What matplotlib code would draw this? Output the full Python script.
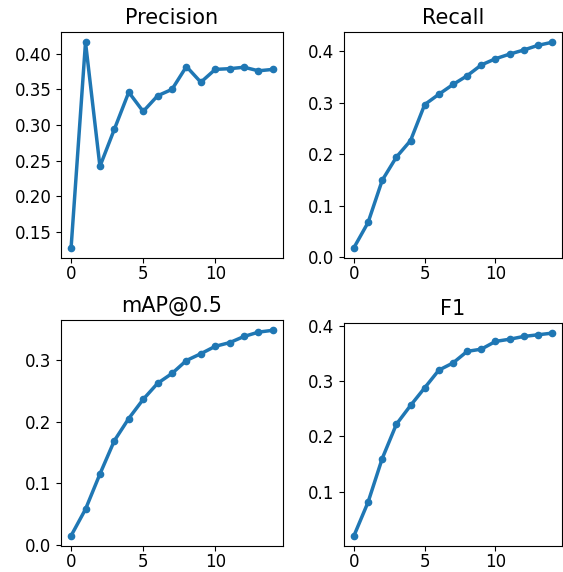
import numpy as np
import matplotlib
matplotlib.use('Agg')
import matplotlib.pyplot as plt
from matplotlib.ticker import MultipleLocator

epochs = np.arange(15)

precision = [0.128, 0.416, 0.242, 0.294, 0.346, 0.319, 0.341, 0.350, 0.382,
             0.360, 0.378, 0.379, 0.381, 0.376, 0.378]
recall = [0.018, 0.067, 0.149, 0.194, 0.226, 0.296, 0.316, 0.335, 0.352,
          0.373, 0.385, 0.394, 0.402, 0.411, 0.417]
map50 = [0.015, 0.058, 0.115, 0.169, 0.205, 0.236, 0.262, 0.278, 0.299,
         0.310, 0.322, 0.328, 0.338, 0.345, 0.348]
f1 = [0.020, 0.081, 0.160, 0.222, 0.256, 0.288, 0.320, 0.333, 0.354,
      0.358, 0.372, 0.376, 0.381, 0.384, 0.387]

titles = ['Precision', 'Recall', 'mAP@0.5', 'F1']
series = [precision, recall, map50, f1]
ystep = [0.05, 0.1, 0.1, 0.1]

W, H = 563, 572
# axes boxes in pixels: left, top, right, bottom
boxes = [(61, 32, 283, 258), (344, 32, 562, 258),
         (61, 320, 283, 546), (344, 323, 562, 546)]

fig = plt.figure(figsize=(W / 100, H / 100), dpi=100)

for (l, t, r, b), name, vals, st in zip(boxes, titles, series, ystep):
    ax = fig.add_axes([l / W, (H - b) / H, (r - l) / W, (b - t) / H])
    ax.plot(epochs, vals, marker='o', color='#1f77b4', lw=2.5, ms=4.5)
    ax.set_title(name, fontsize=15)
    ax.tick_params(labelsize=12)
    ax.tick_params(axis='x', pad=1.5)
    ax.set_xticks([0, 5, 10])
    ax.yaxis.set_major_locator(MultipleLocator(st))
    if st == 0.05:
        ax.yaxis.set_major_formatter('{x:.2f}')
    else:
        ax.yaxis.set_major_formatter('{x:.1f}')

fig.savefig('out.png', dpi=100)
